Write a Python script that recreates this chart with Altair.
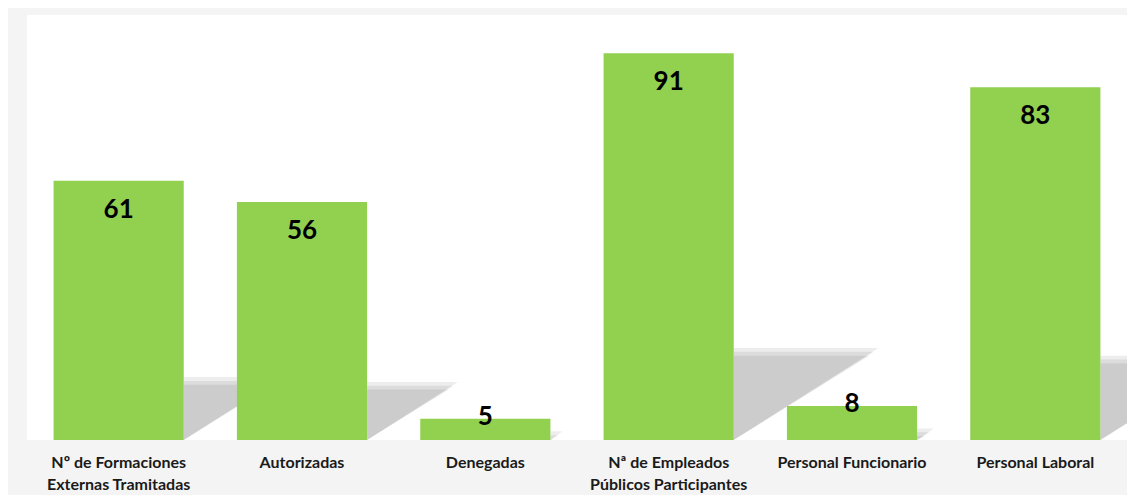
import altair as alt
import pandas as pd

categories = [
    "Nº de Formaciones\nExternas Tramitadas",
    "Autorizadas",
    "Denegadas",
    "Nª de Empleados\nPúblicos Participantes",
    "Personal Funcionario",
    "Personal Laboral",
]
values = [61, 56, 5, 91, 8, 83]

BAR_FRAC = 0.71          # bar width as fraction of the band step
SH_H = 0.228             # shadow height relative to value
SH_W = 0.0084            # shadow width (in steps) per unit of value
BLUR_H = 0.9             # soft-edge step, value units
BLUR_W = 0.025           # soft-edge step, band steps

df = pd.DataFrame({"cat": categories, "v": values})

# soft shadow triangles derived from the values (three stacked translucent layers)
rows = []
for i, v in enumerate(values):
    r = i + BAR_FRAC / 2
    for k in (-1, 0, 1):
        h = max(v * SH_H + k * BLUR_H, 0.1)
        w = max(v * SH_W + k * BLUR_W, 0.005)
        gid = f"{i}_{k}"
        rows.append({"g": gid, "sx": r, "sy": h, "sy2": 0})
        rows.append({"g": gid, "sx": r + w, "sy": h, "sy2": h})
shadow_df = pd.DataFrame(rows)

yscale = alt.Scale(domain=[0, 100])
FONT = "Lato"

shadows = alt.Chart(shadow_df).mark_area(color="#000000", opacity=0.07).encode(
    x=alt.X("sx:Q", scale=alt.Scale(domain=[-0.5, len(values) - 0.5], nice=False, zero=False), axis=None),
    y=alt.Y("sy:Q", scale=yscale, axis=None),
    y2="sy2:Q",
    detail="g:N",
)

xband = alt.X(
    "cat:N",
    sort=categories,
    scale=alt.Scale(paddingInner=1 - BAR_FRAC, paddingOuter=(1 - BAR_FRAC) / 2),
    axis=alt.Axis(
        title=None,
        labelAngle=0,
        labelExpr="split(datum.label, '\\n')",
        labelFont=FONT,
        labelFontWeight="bold",
        labelFontSize=16,
        labelColor="#1a1a1a",
        labelLineHeight=22,
        labelPadding=14,
        labelBaseline="top",
        ticks=False,
        domain=False,
        grid=False,
    ),
)

bars = alt.Chart(df).mark_bar(color="#92D050").encode(
    x=xband,
    y=alt.Y("v:Q", scale=yscale, axis=None),
)

big = alt.Chart(df).transform_filter("datum.v >= 10").mark_text(
    font=FONT, fontWeight="bold", fontSize=26, color="#000000", baseline="middle", dy=29
).encode(x=alt.X("cat:N", sort=categories), y=alt.Y("v:Q", scale=yscale), text="v:Q")

small = alt.Chart(df).transform_filter("datum.v < 10").mark_text(
    font=FONT, fontWeight="bold", fontSize=26, color="#000000", baseline="middle", dy=-2
).encode(x=alt.X("cat:N", sort=categories), y=alt.Y("v:Q", scale=yscale), text="v:Q")

front = alt.layer(bars, big, small)

chart = alt.layer(shadows, front).resolve_scale(x="independent").properties(
    width=1100,
    height=425,
    autosize=alt.AutoSizeParams(type="none"),
    padding={"left": 19, "top": 7, "right": 0, "bottom": 60},
    background="#f4f4f4",
).configure_view(fill="white", stroke=None)

chart.save("out.html", embed_options={"renderer": "svg", "actions": False})
